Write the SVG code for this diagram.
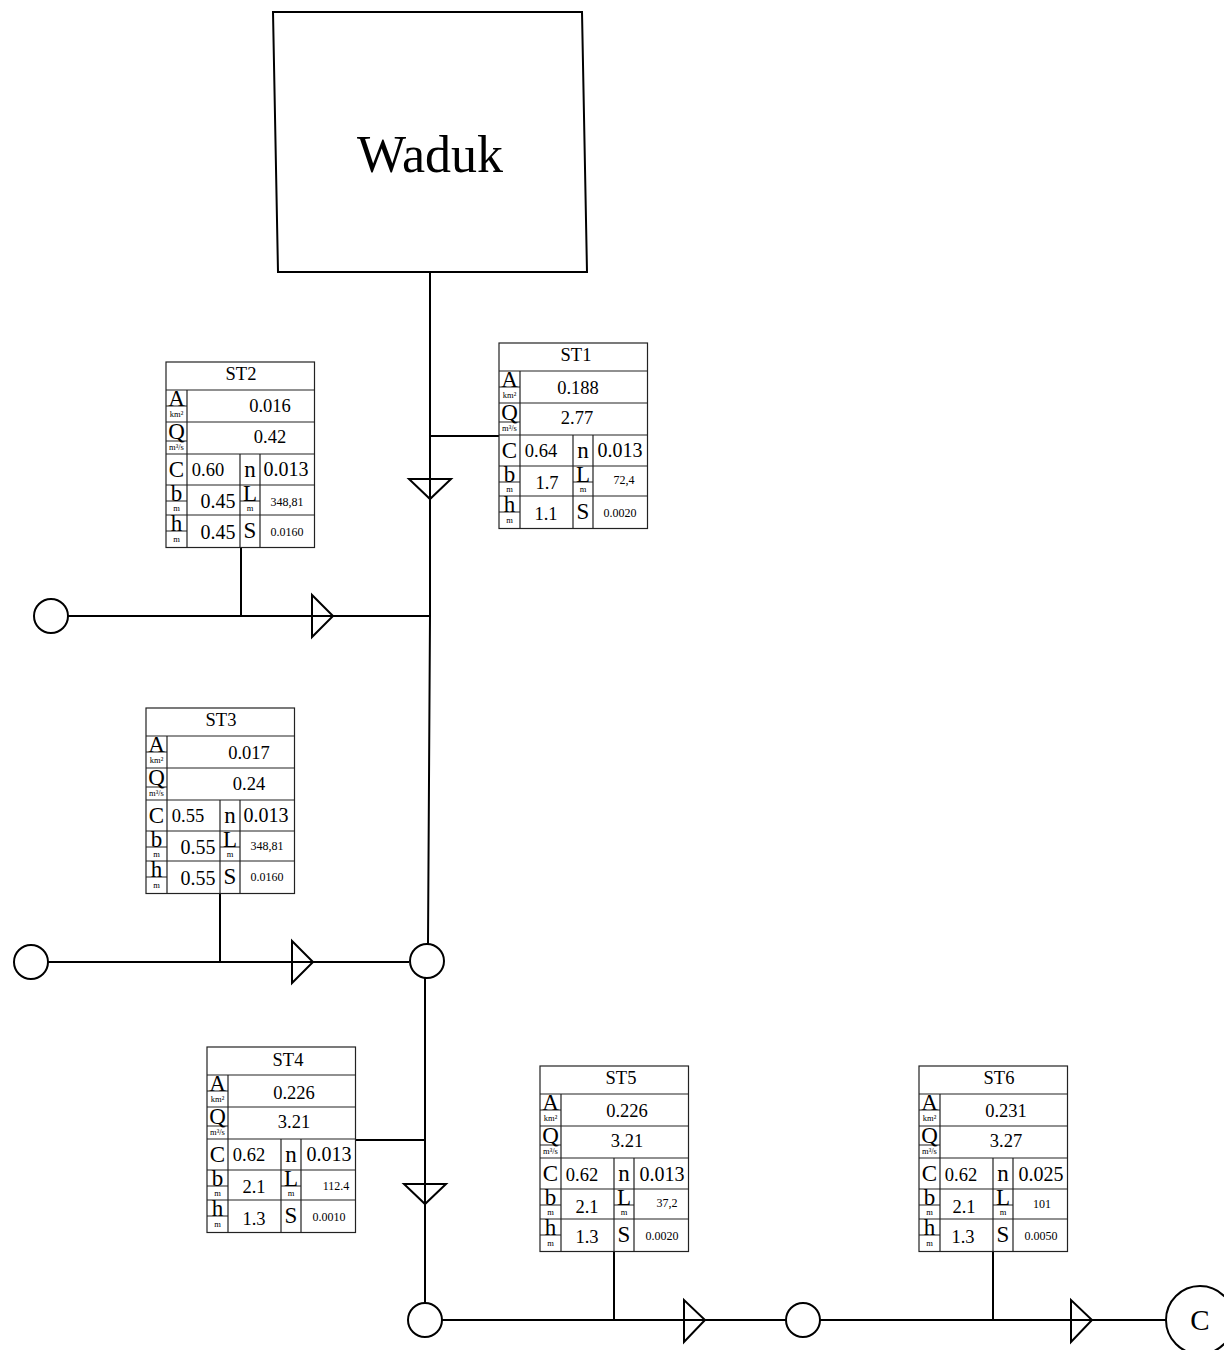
<svg xmlns="http://www.w3.org/2000/svg" width="1224" height="1350" viewBox="0 0 1224 1350">
<style>
text{font-family:"Liberation Serif","Times New Roman",serif;fill:#000;text-anchor:middle}
.ln{fill:none;stroke:#000;stroke-width:2}
.sym{fill:#fff;stroke:#000;stroke-width:2}
.tri{fill:none;stroke:#000;stroke-width:2;stroke-linejoin:miter}
.g{fill:#fff;stroke:#222;stroke-width:1.2}
.t{font-size:18.500px}
.v{font-size:18.500px}
.w{font-size:20px}
.s{font-size:12px}
.l{font-size:23px}
.u{font-size:8.500px}
</style>
<defs>
<g id="grid">
<rect class="g" x="0" y="0" width="148.500" height="185.500"/>
<path class="g" d="M0 28H148.500M0 60H148.500M0 92H148.500M0 123H148.500M0 153H148.500M21 28V185.500M74 92V185.500M94 92V185.500M0 44H21M0 79H21M0 139H21M0 169H21M74 139H94"/>
<text class="l" x="10.500" y="43.500">A</text>
<text class="u" x="10.500" y="55">km²</text>
<text class="l" x="10.500" y="77">Q</text>
<text class="u" x="10.500" y="88">m³/s</text>
<text class="l" x="10.500" y="115">C</text>
<text class="l" x="84" y="115">n</text>
<text class="l" x="10.500" y="138.500">b</text>
<text class="u" x="10.500" y="149">m</text>
<text class="l" x="84" y="138.500">L</text>
<text class="u" x="84" y="149">m</text>
<text class="l" x="10.500" y="168.500">h</text>
<text class="u" x="10.500" y="180">m</text>
<text class="l" x="84" y="176">S</text>
</g>
</defs>
<g id="connectors">
<path class="ln" d="M430 273V616M430 436H499M430 616H68M241 548V616M430 616L428 944M48 962H409M220 893V962M425 978V1304M356 1140H425M442 1320H787M614 1252V1320M820 1320H1166M993 1252V1320"/>
<path class="tri" d="M409 479H451L430 499ZM312 595V637L333 616ZM292 941V983L313 962ZM404 1184H446L425 1204ZM684 1300V1342L705 1320ZM1071 1300V1342L1092 1320Z"/>
</g>
<g id="waduk">
<path class="sym" d="M273 12H582L587 272H278Z"/>
<text x="430" y="172" style="font-size:52px">Waduk</text>
</g>
<g id="ST1" transform="translate(499,343)"><use href="#grid"/>
<text class="t" x="77" y="18">ST1</text><text class="v" x="79" y="51">0.188</text><text class="v" x="78" y="81">2.77</text>
<text class="v" x="42" y="114">0.64</text><text class="w" x="121" y="114">0.013</text>
<text class="v" x="48" y="146">1.7</text><text class="s" x="125" y="141">72,4</text>
<text class="v" x="47" y="177">1.1</text><text class="s" x="121" y="174">0.0020</text></g>
<g id="ST2" transform="translate(166,362)"><use href="#grid"/>
<text class="t" x="75" y="18">ST2</text><text class="v" x="104" y="50">0.016</text><text class="v" x="104" y="81">0.42</text>
<text class="v" x="42" y="114">0.60</text><text class="w" x="120" y="114">0.013</text>
<text class="w" x="52" y="146">0.45</text><text class="s" x="121" y="144">348,81</text>
<text class="w" x="52" y="177">0.45</text><text class="s" x="121" y="174">0.0160</text></g>
<g id="ST3" transform="translate(146,708)"><use href="#grid"/>
<text class="t" x="75" y="18">ST3</text><text class="v" x="103" y="51">0.017</text><text class="v" x="103" y="82">0.24</text>
<text class="v" x="42" y="114">0.55</text><text class="w" x="120" y="114">0.013</text>
<text class="w" x="52" y="146">0.55</text><text class="s" x="121" y="142">348,81</text>
<text class="w" x="52" y="177">0.55</text><text class="s" x="121" y="173">0.0160</text></g>
<g id="ST4" transform="translate(207,1047)"><use href="#grid"/>
<text class="t" x="81" y="19">ST4</text><text class="v" x="87" y="52">0.226</text><text class="v" x="87" y="81">3.21</text>
<text class="v" x="42" y="114">0.62</text><text class="w" x="122" y="114">0.013</text>
<text class="v" x="47" y="146">2.1</text><text class="s" x="129" y="143">112.4</text>
<text class="v" x="47" y="178">1.3</text><text class="s" x="122" y="174">0.0010</text></g>
<g id="ST5" transform="translate(540,1066)"><use href="#grid"/>
<text class="t" x="81" y="18">ST5</text><text class="v" x="87" y="51">0.226</text><text class="v" x="87" y="81">3.21</text>
<text class="v" x="42" y="115">0.62</text><text class="w" x="122" y="115">0.013</text>
<text class="v" x="47" y="147">2.1</text><text class="s" x="127" y="141">37,2</text>
<text class="v" x="47" y="177">1.3</text><text class="s" x="122" y="174">0.0020</text></g>
<g id="ST6" transform="translate(919,1066)"><use href="#grid"/>
<text class="t" x="80" y="18">ST6</text><text class="v" x="87" y="51">0.231</text><text class="v" x="87" y="81">3.27</text>
<text class="v" x="42" y="115">0.62</text><text class="w" x="122" y="115">0.025</text>
<text class="v" x="45" y="147">2.1</text><text class="s" x="123" y="142">101</text>
<text class="v" x="44" y="177">1.3</text><text class="s" x="122" y="174">0.0050</text></g>
<g id="n1"><circle class="sym" cx="51" cy="616" r="17"/></g>
<g id="n2"><circle class="sym" cx="31" cy="962" r="17"/></g>
<g id="n3"><circle class="sym" cx="427" cy="961" r="17"/></g>
<g id="n4"><circle class="sym" cx="425" cy="1320" r="17"/></g>
<g id="n5"><circle class="sym" cx="803" cy="1320" r="17"/></g>
<g id="nC"><circle class="sym" cx="1200" cy="1320" r="34"/><text x="1200" y="1330" style="font-size:29px">C</text></g>
</svg>
